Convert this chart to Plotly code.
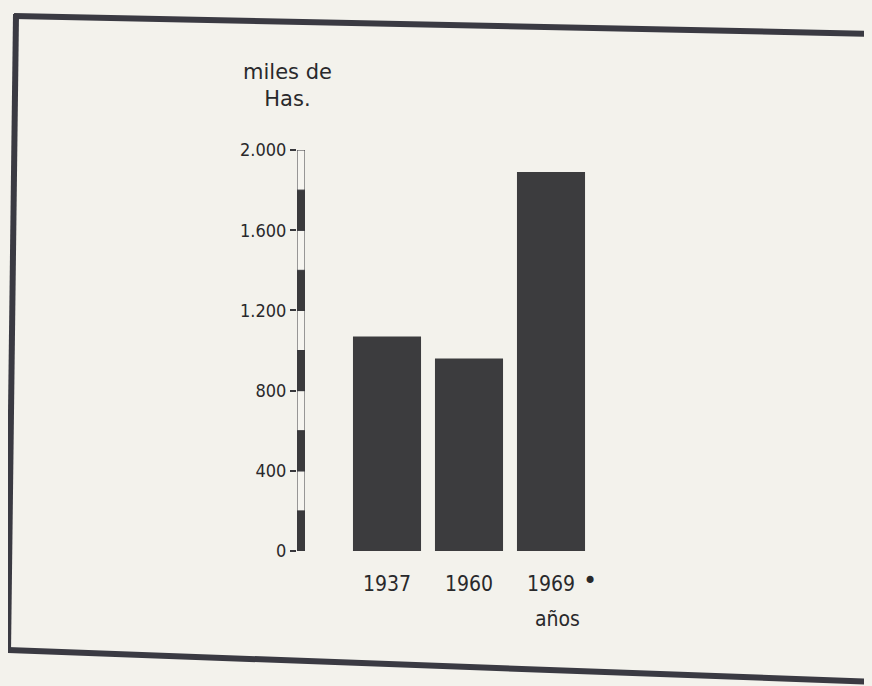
import plotly.graph_objects as go

# Data
years = ["1937", "1960", "1969"]
areas = [1070, 960, 1890]          # miles de Has.
tick_vals = [0, 400, 800, 1200, 1600, 2000]
tick_text = ["0", "400", "800", "1.200", "1.600", "2.000"]
scale_step = 200
scale_bases = list(range(0, 2000, scale_step))
scale_colors = ["#3a3a3c" if (b // scale_step) % 2 == 0 else "#f6f5f0" for b in scale_bases]

W, H = 872, 686
OFF = 8  # page body margin
BG = "#f3f2ec"
INK = "#38383c"
TXT = "#29292b"
FONT = "DejaVu Sans Condensed, Liberation Sans Narrow, sans-serif"
FONT_WIDE = "DejaVu Sans, sans-serif"

def px(x):
    return (x - OFF) / W

def py(y):
    return (H - (y - OFF)) / H

fig = go.Figure()

# main bars
fig.add_trace(go.Bar(
    x=years, y=areas, xaxis="x", yaxis="y",
    marker=dict(color="#3c3c3e", line=dict(width=0)),
    width=0.83, showlegend=False, hoverinfo="x+y",
))

# scale bar (alternating segments)
fig.add_trace(go.Bar(
    x=[0] * len(scale_bases), y=[scale_step] * len(scale_bases), base=scale_bases,
    xaxis="x2", yaxis="y",
    marker=dict(color=scale_colors, line=dict(color=INK, width=1)),
    width=1.0, showlegend=False, hoverinfo="skip",
))

fig.update_layout(
    width=W, height=H,
    margin=dict(l=0, r=0, t=0, b=0, pad=0, autoexpand=False),
    paper_bgcolor=BG, plot_bgcolor="rgba(0,0,0,0)",
    barmode="overlay",
    font=dict(family=FONT, color=TXT),
    xaxis=dict(
        domain=[px(346), px(592)], range=[-0.5, 2.5],
        type="category", showgrid=False, zeroline=False, showline=False,
        ticks="outside", ticklen=14, tickcolor="rgba(0,0,0,0)",
        tickfont=dict(size=21, family=FONT, color=TXT),
        anchor="y", automargin=False,
    ),
    xaxis2=dict(
        domain=[px(297), px(305)], range=[-0.5, 0.5],
        showgrid=False, zeroline=False, showline=False, showticklabels=False,
        anchor="y", automargin=False,
    ),
    yaxis=dict(
        domain=[py(551), py(150)], range=[0, 2000],
        anchor="x2", side="left",
        tickvals=tick_vals, ticktext=tick_text,
        ticks="outside", ticklen=6, tickwidth=1.5, tickcolor=INK,
        tickfont=dict(size=18, family=FONT, color=TXT),
        showgrid=False, zeroline=False, showline=False, automargin=False,
    ),
)

# axis title
fig.add_annotation(
    text="miles de<br>Has.", xref="paper", yref="paper",
    x=px(287), y=py(58), xanchor="center", yanchor="top",
    showarrow=False, align="center",
    font=dict(size=21, family=FONT_WIDE, color=TXT),
)
# marker after 1969 (category index 2)
fig.add_annotation(
    text="•", xref="x", yref="paper", x=2, y=py(597),
    xshift=39, showarrow=False, font=dict(size=24, family=FONT_WIDE, color=TXT),
)
# x axis title
fig.add_annotation(
    text="años", xref="x", yref="paper", x=2, y=py(633),
    xshift=6, showarrow=False, font=dict(size=21, family=FONT, color=TXT),
)

# frame of the scanned page
frame = [
    ((14, 16), (880, 34)),   # top
    ((16, 14), (8, 652)),    # left
    ((6, 650), (880, 682)),  # bottom
]
for (x0, y0), (x1, y1) in frame:
    fig.add_shape(type="line", xref="paper", yref="paper",
                  x0=px(x0), y0=py(y0), x1=px(x1), y1=py(y1),
                  line=dict(color="#3a3a42", width=6))

fig.write_html("out.html", post_script=f"document.body.style.background='{BG}';")
